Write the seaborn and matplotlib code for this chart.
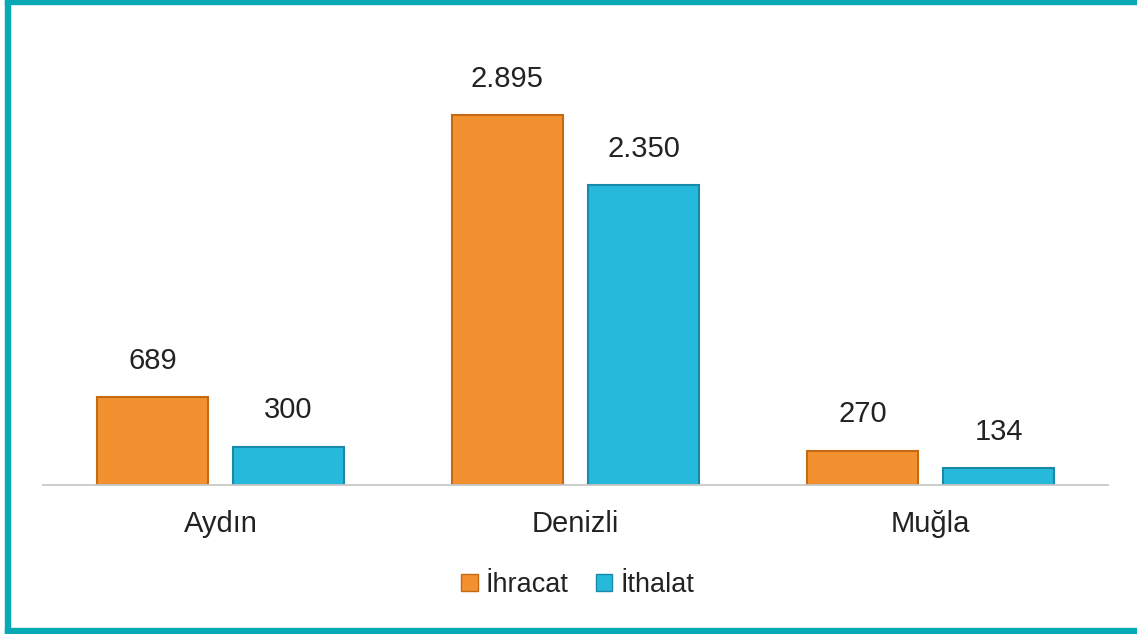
import matplotlib
matplotlib.use('Agg')
import matplotlib.pyplot as plt
import seaborn as sns
import pandas as pd
from matplotlib.patches import Rectangle

regions = ['Aydın', 'Denizli', 'Muğla']
ihracat = [689, 2895, 270]
ithalat = [300, 2350, 134]
ihracat_labels = ['689', '2.895', '270']
ithalat_labels = ['300', '2.350', '134']
series_names = ['İhracat', 'İthalat']

df = pd.DataFrame({
    'il': regions * 2,
    'deger': ihracat + ithalat,
    'seri': [series_names[0]] * len(regions) + [series_names[1]] * len(regions),
})

sns.set_style('white')
plt.rcParams['font.family'] = ['Liberation Sans', 'DejaVu Sans']

W, H = 1137, 634
fig = plt.figure(figsize=(W / 100, H / 100), dpi=100)
ax = fig.add_axes([43 / W, 149 / H, 1065 / W, 465 / H])

bar_colors = ['#F39130', '#27B9DB']
edge_colors = ['#C46A12', '#1889A8']

sns.barplot(data=df, x='il', y='deger', hue='seri',
            palette=bar_colors, width=0.767, gap=0.19,
            saturation=1, ax=ax)

all_labels = [ihracat_labels, ithalat_labels]
for cont, ec, labs in zip(ax.containers, edge_colors, all_labels):
    for bar in cont:
        bar.set_edgecolor(ec)
        bar.set_linewidth(1.5)
    ax.bar_label(cont, labels=labs, padding=16, fontsize=21, color='#222222')

ax.set_xlim(-0.5, 2.5)
ax.set_ylim(0, 3640)
ax.set_xlabel('')
ax.set_ylabel('')
ax.set_yticks([])
for s in ['top', 'right', 'left']:
    ax.spines[s].set_visible(False)
ax.spines['bottom'].set_color('#C8C8C8')
ax.spines['bottom'].set_linewidth(1.3)
ax.tick_params(axis='x', length=0, pad=18, labelsize=21, labelcolor='#222222')

ax.legend_.remove()
handles = [Rectangle((0, 0), 1, 1, facecolor=c, edgecolor=e, linewidth=1)
           for c, e in zip(bar_colors, edge_colors)]
fig.legend(handles, series_names, loc='center', bbox_to_anchor=(0.508, 0.077),
           ncol=2, frameon=False, fontsize=19.5, handlelength=0.6, handleheight=0.6,
           handletextpad=0.3, columnspacing=1.0, labelcolor='#222222')

# teal frame (left, top, bottom)
teal = '#07A9B5'
fig.add_artist(Rectangle((5 / W, 0), 5 / W, 1, transform=fig.transFigure, color=teal))
fig.add_artist(Rectangle((5 / W, 1 - 4 / H), 1, 4 / H, transform=fig.transFigure, color=teal))
fig.add_artist(Rectangle((5 / W, 0), 1, 6 / H, transform=fig.transFigure, color=teal))

fig.savefig('out.png', dpi=100, facecolor='white')
